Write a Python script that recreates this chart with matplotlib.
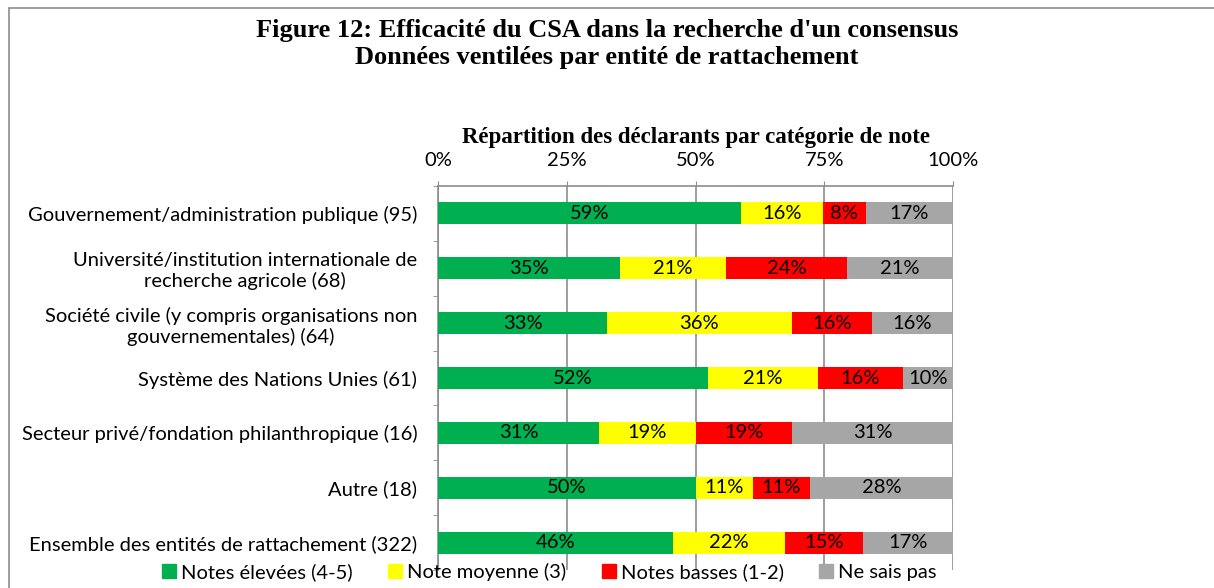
import matplotlib
matplotlib.use("Agg")
import matplotlib.pyplot as plt
from matplotlib.patches import Rectangle
from matplotlib.lines import Line2D
import numpy as np

categories = [
    "Gouvernement/administration publique (95)",
    "Université/institution internationale de\nrecherche agricole (68)",
    "Société civile (y compris organisations non\ngouvernementales) (64)",
    "Système des Nations Unies (61)",
    "Secteur privé/fondation philanthropique (16)",
    "Autre (18)",
    "Ensemble des entités de rattachement (322)",
]
series_names = ["Notes élevées (4-5)", "Note moyenne (3)", "Notes basses (1-2)", "Ne sais pas"]
elevees = [58.9, 35.3, 32.8, 52.5, 31.25, 50.0, 45.7]
moyenne = [15.8, 20.6, 35.9, 21.3, 18.75, 11.1, 21.7]
basses = [8.4, 23.5, 15.6, 16.4, 18.75, 11.1, 15.2]
nsp = [16.8, 20.6, 15.6, 9.8, 31.25, 27.8, 17.4]
colors = ["#00B050", "#FFFF00", "#FF0000", "#A6A6A6"]
xticks = [0, 25, 50, 75, 100]
xtick_labels = ["0%", "25%", "50%", "75%", "100%"]

title = "Figure 12: Efficacité du CSA dans la recherche d'un consensus\nDonnées ventilées par entité de rattachement"
axis_title = "Répartition des déclarants par catégorie de note"

W, H = 1214, 588
fig = plt.figure(figsize=(W / 100, H / 100), dpi=100)
sans = ["Lato", "DejaVu Sans"]
serif = ["Liberation Serif", "DejaVu Serif"]
FS = 14.5

# figure border
fig.patches.append(Rectangle((9 / W, -0.01), 1.02, 1 - 8 / H + 0.01, transform=fig.transFigure,
                             fill=False, edgecolor="#8c8c8c", linewidth=1.2))

fig.text(0.5, 1 - 44 / H, title, ha="center", va="center", fontsize=19, fontweight="bold",
         family=serif, linespacing=1.2)

ax = fig.add_axes([438 / W, 1 - 570 / H, (953 - 438) / W, (570 - 186) / H])
n = len(categories)
y = np.arange(n)
data = [elevees, moyenne, basses, nsp]
left = np.zeros(n)
for vals, c, name in zip(data, colors, series_names):
    vals = np.array(vals)
    ax.barh(y, vals, left=left, height=0.4, color=c, label=name, zorder=3)
    for yi, l, v in zip(y, left, vals):
        ax.text(l + v / 2, yi, f"{v:.0f}%", ha="center", va="center", fontsize=FS,
                family=sans, zorder=4, color="#000000")
    left += vals

ax.set_xlim(0, 100)
ax.set_ylim(n - 0.5, -0.5)
ax.xaxis.tick_top()
ax.set_xticks(xticks)
ax.set_xticklabels(xtick_labels, family=sans, fontsize=FS)
ax.tick_params(axis="x", length=3.6, color="#8c8c8c", pad=9)
ax.set_yticks(y)
ax.set_yticklabels(categories, family=sans, fontsize=FS, ha="right", multialignment="center")
ax.tick_params(axis="y", length=0, pad=15)
ax.set_yticks(np.arange(n + 1) - 0.5, minor=True)
ax.tick_params(axis="y", which="minor", length=3.6, color="#8c8c8c")
ax.grid(axis="x", color="#8c8c8c", linewidth=1.2, zorder=0)
for s in ["right", "bottom"]:
    ax.spines[s].set_visible(False)
for s in ["left", "top"]:
    ax.spines[s].set_color("#8c8c8c")
    ax.spines[s].set_linewidth(1.2)
ax.set_xlabel(axis_title, family=serif, fontsize=16.5, fontweight="bold", labelpad=6)
ax.xaxis.set_label_position("top")

handles = [Line2D([], [], marker="s", linestyle="none", markersize=10, markerfacecolor=c,
                  markeredgecolor=c) for c in colors]
fig.legend(handles, series_names, loc="center", bbox_to_anchor=(548 / W, 1 - 572 / H), ncol=4,
           frameon=False, prop={"family": sans, "size": FS}, handletextpad=0.1,
           columnspacing=1.6, borderaxespad=0, handlelength=1.0)

fig.savefig("out.png", dpi=100)
